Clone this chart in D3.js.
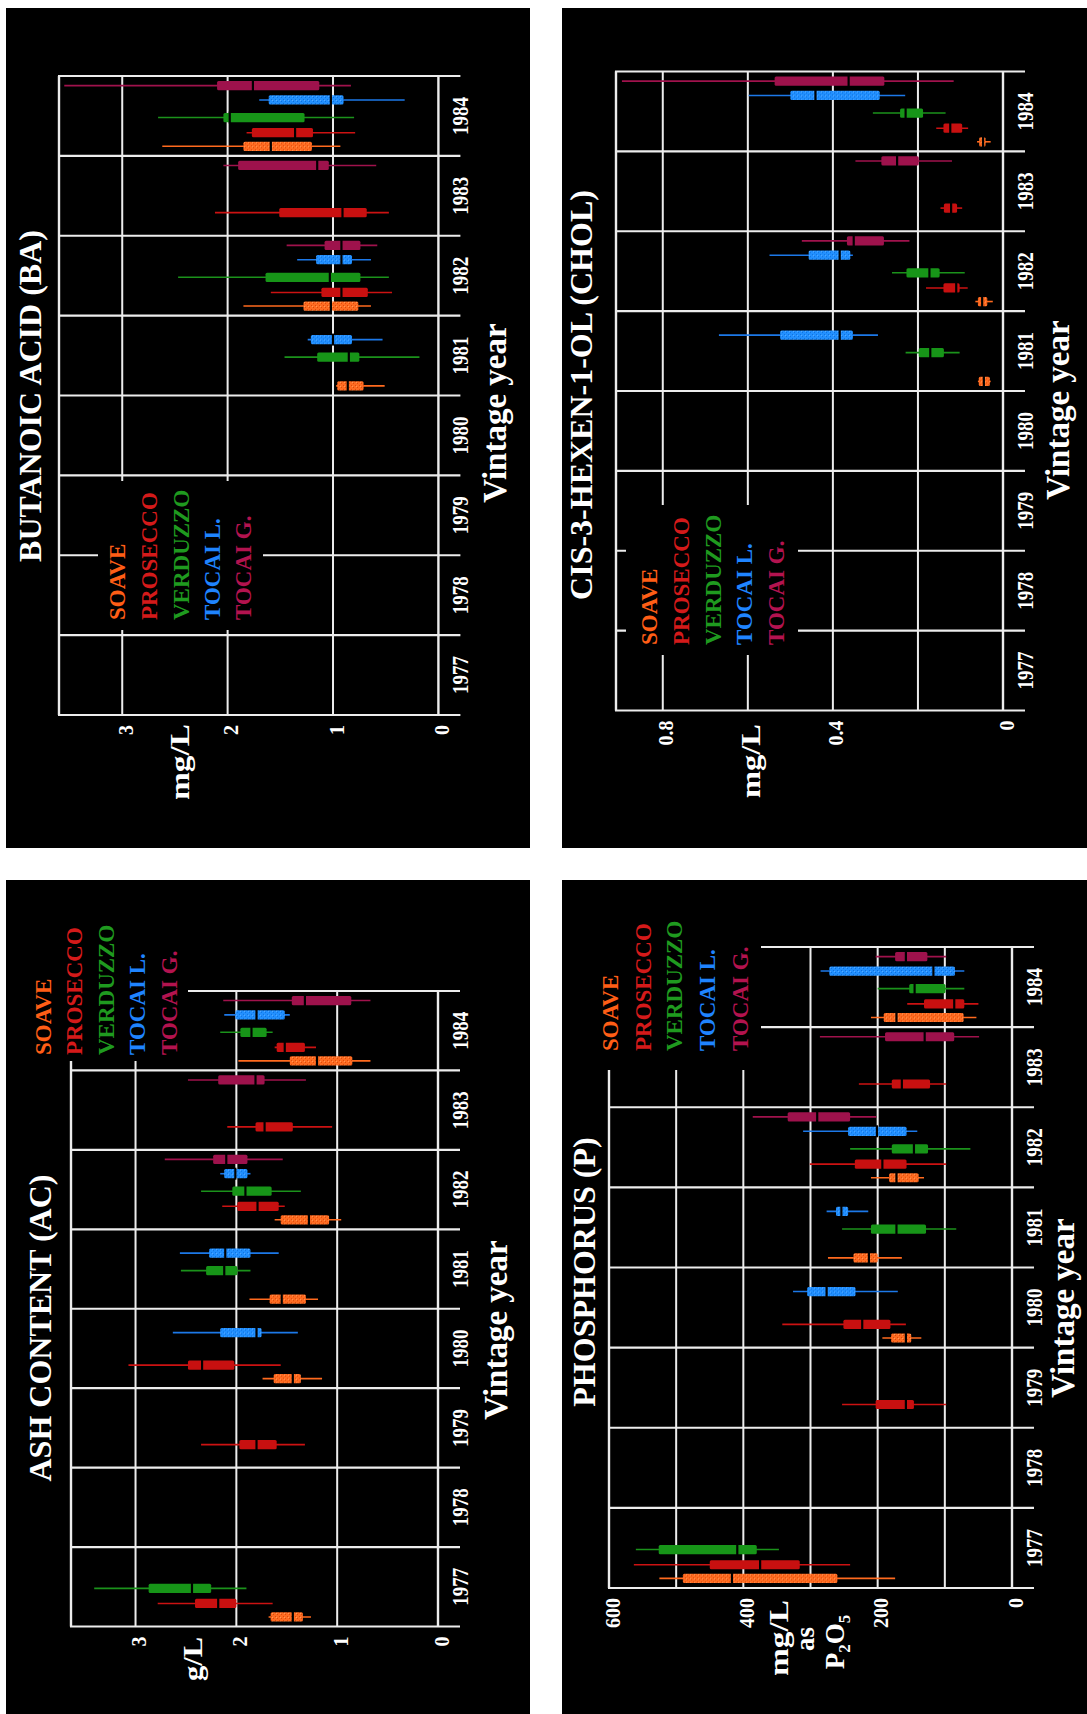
<!DOCTYPE html>
<html><head><meta charset="utf-8">
<script src="https://cdn.jsdelivr.net/npm/d3@7"></script>
<style>body{margin:0;background:#fff} svg{display:block}</style>
</head><body>
<svg id="chart" width="1087" height="1714"></svg>
<script>
// ---------------- DATA ----------------
const years = [1977, 1978, 1979, 1980, 1981, 1982, 1983, 1984];
const wines = ["SOAVE", "PROSECCO", "VERDUZZO", "TOCAI L.", "TOCAI G."];

// rows: [year, wine, min, q1, median, q3, max]
const butanoicBoxes = [
  [1981, "SOAVE", 0.51, 0.71, 0.86, 0.96, 0.97],
  [1981, "VERDUZZO", 0.18, 0.75, 0.85, 1.15, 1.46],
  [1981, "TOCAI L.", 0.53, 0.82, 1.00, 1.21, 1.24],
  [1982, "SOAVE", 0.64, 0.76, 1.02, 1.28, 1.85],
  [1982, "PROSECCO", 0.44, 0.67, 0.92, 1.11, 1.59],
  [1982, "VERDUZZO", 0.47, 0.74, 1.03, 1.64, 2.47],
  [1982, "TOCAI L.", 0.64, 0.82, 0.92, 1.16, 1.34],
  [1982, "TOCAI G.", 0.58, 0.74, 0.92, 1.08, 1.44],
  [1983, "PROSECCO", 0.47, 0.68, 0.91, 1.51, 2.12],
  [1983, "TOCAI G.", 0.59, 1.04, 1.15, 1.90, 2.04],
  [1984, "SOAVE", 0.93, 1.20, 1.59, 1.85, 2.62],
  [1984, "PROSECCO", 0.79, 1.19, 1.36, 1.77, 1.82],
  [1984, "VERDUZZO", 0.80, 1.27, 1.98, 2.04, 2.66],
  [1984, "TOCAI L.", 0.32, 0.90, 1.02, 1.61, 1.70],
  [1984, "TOCAI G.", 0.83, 1.13, 1.76, 2.10, 3.55]
];

const hexenolBoxes = [
  [1981, "SOAVE", 0.029, 0.031, 0.045, 0.057, 0.059],
  [1981, "VERDUZZO", 0.102, 0.139, 0.171, 0.198, 0.229],
  [1981, "TOCAI L.", 0.294, 0.353, 0.384, 0.524, 0.668],
  [1982, "SOAVE", 0.024, 0.037, 0.049, 0.059, 0.065],
  [1982, "PROSECCO", 0.083, 0.102, 0.110, 0.140, 0.181],
  [1982, "VERDUZZO", 0.090, 0.149, 0.173, 0.227, 0.261],
  [1982, "TOCAI L.", 0.353, 0.359, 0.384, 0.457, 0.549],
  [1982, "TOCAI G.", 0.220, 0.280, 0.351, 0.367, 0.473],
  [1983, "PROSECCO", 0.096, 0.108, 0.122, 0.139, 0.147],
  [1983, "TOCAI G.", 0.120, 0.198, 0.249, 0.286, 0.347],
  [1984, "SOAVE", 0.029, 0.041, 0.047, 0.056, 0.061],
  [1984, "PROSECCO", 0.082, 0.096, 0.124, 0.140, 0.157],
  [1984, "VERDUZZO", 0.135, 0.188, 0.229, 0.242, 0.306],
  [1984, "TOCAI L.", 0.230, 0.290, 0.441, 0.500, 0.598],
  [1984, "TOCAI G.", 0.116, 0.279, 0.363, 0.537, 0.896]
];

const ashBoxes = [
  [1977, "SOAVE", 1.26, 1.34, 1.44, 1.66, 1.68],
  [1977, "PROSECCO", 1.64, 2.00, 2.18, 2.41, 2.78],
  [1977, "VERDUZZO", 1.90, 2.25, 2.44, 2.87, 3.41],
  [1979, "PROSECCO", 1.32, 1.60, 1.80, 1.97, 2.35],
  [1980, "SOAVE", 1.15, 1.36, 1.44, 1.63, 1.74],
  [1980, "PROSECCO", 1.56, 2.02, 2.34, 2.48, 3.07],
  [1980, "TOCAI L.", 1.39, 1.75, 1.80, 2.16, 2.63],
  [1981, "SOAVE", 1.19, 1.31, 1.55, 1.67, 1.87],
  [1981, "VERDUZZO", 1.86, 1.99, 2.12, 2.30, 2.55],
  [1981, "TOCAI L.", 1.58, 1.86, 2.11, 2.27, 2.56],
  [1982, "SOAVE", 0.96, 1.08, 1.28, 1.56, 1.62],
  [1982, "PROSECCO", 1.52, 1.58, 1.79, 1.99, 2.14],
  [1982, "VERDUZZO", 1.36, 1.65, 1.91, 2.04, 2.35],
  [1982, "TOCAI L.", 1.86, 1.89, 2.01, 2.12, 2.16],
  [1982, "TOCAI G.", 1.54, 1.89, 2.10, 2.23, 2.71],
  [1983, "PROSECCO", 1.05, 1.44, 1.72, 1.81, 2.09],
  [1983, "TOCAI G.", 1.31, 1.72, 1.81, 2.18, 2.48],
  [1984, "SOAVE", 0.67, 0.85, 1.20, 1.47, 1.98],
  [1984, "PROSECCO", 1.21, 1.32, 1.52, 1.60, 1.62],
  [1984, "VERDUZZO", 1.64, 1.70, 1.85, 1.96, 2.16],
  [1984, "TOCAI L.", 1.47, 1.52, 1.80, 2.01, 2.12],
  [1984, "TOCAI G.", 0.67, 0.86, 1.32, 1.45, 2.13]
];

const phosphorusBoxes = [
  [1977, "SOAVE", 174, 260, 417, 490, 525],
  [1977, "PROSECCO", 241, 316, 375, 450, 563],
  [1977, "VERDUZZO", 347, 380, 409, 526, 560],
  [1979, "PROSECCO", 98, 146, 158, 203, 253],
  [1980, "SOAVE", 135, 150, 158, 180, 193],
  [1980, "PROSECCO", 158, 181, 223, 251, 342],
  [1980, "TOCAI L.", 170, 233, 276, 305, 326],
  [1981, "SOAVE", 164, 200, 213, 236, 274],
  [1981, "VERDUZZO", 83, 128, 172, 210, 253],
  [1981, "TOCAI L.", 214, 244, 254, 262, 276],
  [1982, "SOAVE", 131, 139, 172, 183, 210],
  [1982, "PROSECCO", 98, 157, 193, 234, 301],
  [1982, "VERDUZZO", 62, 125, 146, 179, 241],
  [1982, "TOCAI L.", 141, 157, 201, 244, 311],
  [1982, "TOCAI G.", 202, 241, 290, 334, 386],
  [1983, "PROSECCO", 98, 122, 164, 179, 228],
  [1983, "TOCAI G.", 49, 86, 130, 189, 286],
  [1984, "SOAVE", 53, 72, 172, 191, 210],
  [1984, "PROSECCO", 50, 71, 86, 131, 156],
  [1984, "VERDUZZO", 71, 99, 145, 153, 200],
  [1984, "TOCAI L.", 71, 85, 117, 272, 285],
  [1984, "TOCAI G.", 98, 126, 158, 174, 203]
];

const butanoicTicks = [0, 1, 2, 3];
const hexenolTicks = [0, 0.4, 0.8];
const hexenolGrid = [0.2, 0.4, 0.6, 0.8];
const ashTicks = [0, 1, 2, 3];
const phosphorusTicks = [0, 200, 400, 600];
const phosphorusGrid = [100, 200, 300, 400, 500];

// ---------------- STYLE ----------------
const SERIF = "'Liberation Serif','Times New Roman',Times,serif";
const GRID = "#ececec";
const textColors = {"SOAVE": "#ff5e16", "PROSECCO": "#d41a1a", "VERDUZZO": "#1f9a1f", "TOCAI L.": "#1f84ff", "TOCAI G.": "#b3134f"};
const lineColors = {"SOAVE": "#ff6a1e", "PROSECCO": "#cc1212", "VERDUZZO": "#1b921b", "TOCAI L.": "#1c78e8", "TOCAI G.": "#a0124c"};
const boxFills = {"SOAVE": "url(#patSoave)", "PROSECCO": "#c81010", "VERDUZZO": "#179518", "TOCAI L.": "url(#patTocaiL)", "TOCAI G.": "#9e124c"};
const slotFrac = {"SOAVE": 0.12, "PROSECCO": 0.29, "VERDUZZO": 0.48, "TOCAI L.": 0.70, "TOCAI G.": 0.88};

const svg = d3.select("#chart");
const defs = svg.append("defs");
function makePattern(id, base, dark, light) {
  const p = defs.append("pattern").attr("id", id).attr("width", 4).attr("height", 4).attr("patternUnits", "userSpaceOnUse");
  p.append("rect").attr("width", 4).attr("height", 4).attr("fill", base);
  p.append("rect").attr("x", 0).attr("y", 0).attr("width", 1).attr("height", 1).attr("fill", dark);
  p.append("rect").attr("x", 2).attr("y", 2).attr("width", 1).attr("height", 1).attr("fill", dark);
  p.append("rect").attr("x", 3).attr("y", 1).attr("width", 1).attr("height", 1).attr("fill", light);
}
makePattern("patSoave", "#ff6c22", "#d94a0a", "#ff9c5a");
makePattern("patTocaiL", "#2290ff", "#0e6fdc", "#5aacff");

// ---------------- LAYOUT ----------------
// unit lines: [text parts, baseline x, center y, textLength]
const panels = [
  {title: "BUTANOIC ACID (BA)", data: butanoicBoxes, vmax: 3.6,
   grid: [1, 2, 3], ticks: butanoicTicks,
   px: 6, py: 8, pw: 524, ph: 840, fx0: 59, zero: 438.4, fyTop: 76, fyBot: 715,
   titlePos: [41, 396], vyPos: [506, 413], units: [[["mg/L"], 189, 762, 76]],
   legBase: [125, 156.5, 188.5, 219.5, 251], legBottom: 620, legBox: [98, 481, 263, 630]},
  {title: "CIS-3-HEXEN-1-OL (CHOL)", data: hexenolBoxes, vmax: 0.91,
   grid: hexenolGrid, ticks: hexenolTicks,
   px: 562, py: 8, pw: 525, ph: 840, fx0: 616, zero: 1003, fyTop: 71.5, fyBot: 710.5,
   titlePos: [592, 395], vyPos: [1069, 410], units: [[["mg/L"], 760, 761, 74]],
   legBase: [657, 689, 721, 752, 784], legBottom: 645, legBox: [626, 505, 798, 655]},
  {title: "ASH CONTENT (AC)", data: ashBoxes, vmax: 3.64,
   grid: [1, 2, 3], ticks: ashTicks,
   px: 6, py: 880, pw: 524, ph: 834, fx0: 71, zero: 438, fyTop: 991, fyBot: 1626.5,
   titlePos: [51, 1328], vyPos: [507, 1330], units: [[["g/L"], 202, 1659, 44]],
   legBase: [51, 82, 113.5, 145, 177], legBottom: 1055, legBox: [6, 880, 188, 1061]},
  {title: "PHOSPHORUS (P)", data: phosphorusBoxes, vmax: 600,
   grid: phosphorusGrid, ticks: phosphorusTicks,
   px: 562, py: 880, pw: 525, ph: 834, fx0: 609, zero: 1012, fyTop: 947, fyBot: 1588,
   titlePos: [595, 1272], vyPos: [1074, 1308],
   units: [[["mg/L"], 788, 1638, 76], [["as"], 814, 1639, 0], [["P", "2", "O", "5"], 844, 1642, 0]],
   legBase: [618, 651, 682, 715, 748], legBottom: 1051, legBox: [562, 880, 761, 1070]}
];

function drawPanel(p) {
  svg.append("rect").attr("x", p.px).attr("y", p.py).attr("width", p.pw).attr("height", p.ph).attr("fill", "#000");
  const W = p.fyBot - p.fyTop, H = p.zero - p.fx0;
  const g = svg.append("g").attr("transform", `translate(${p.fx0},${p.fyBot}) rotate(-90)`);
  const L = (sx, sy) => [p.fyBot - sy, sx - p.fx0];
  const x = d3.scaleBand().domain(years).range([0, W]);
  const y = d3.scaleLinear().domain([0, p.vmax]).range([H, 0]);
  const bw = x.bandwidth();

  // value grid lines
  g.append("g").selectAll("line").data(p.grid).join("line")
    .attr("x1", 0).attr("x2", W).attr("y1", d => y(d)).attr("y2", d => y(d))
    .attr("stroke", GRID).attr("stroke-width", 2);
  // year boundaries
  const edges = years.map(d => x(d)).concat([W]);
  g.append("g").selectAll("line").data(edges).join("line")
    .attr("x1", d => d).attr("x2", d => d).attr("y1", -1).attr("y2", H + 22)
    .attr("stroke", GRID).attr("stroke-width", 2.2);
  // frame sides (value max and zero)
  g.append("g").selectAll("line").data([p.vmax, 0]).join("line")
    .attr("x1", 0).attr("x2", W).attr("y1", d => y(d)).attr("y2", d => y(d))
    .attr("stroke", GRID).attr("stroke-width", 2.4);

  // legend box (covers grid) and legend text
  const [lx0, ly0, lx1, ly1] = p.legBox;
  const a = L(lx0, ly1), b = L(lx1, ly0);
  g.append("rect").attr("x", a[0]).attr("y", a[1]).attr("width", b[0] - a[0]).attr("height", b[1] - a[1]).attr("fill", "#000");
  g.append("g").selectAll("text").data(wines).join("text")
    .attr("x", p.fyBot - p.legBottom)
    .attr("y", (d, i) => p.legBase[i] - p.fx0)
    .attr("fill", d => textColors[d])
    .attr("font-family", SERIF).attr("font-weight", "bold").attr("font-size", 23)
    .text(d => d);

  // boxes
  const rows = p.data.map(r => ({year: r[0], wine: r[1], min: r[2], q1: r[3], med: r[4], q3: r[5], max: r[6]}));
  const bg = g.append("g").selectAll("g").data(rows).join("g")
    .attr("transform", d => `translate(${x(d.year) + bw * slotFrac[d.wine]},0)`);
  bg.append("line").attr("x1", 0).attr("x2", 0).attr("y1", d => y(d.max)).attr("y2", d => y(d.min))
    .attr("stroke", d => lineColors[d.wine]).attr("stroke-width", 1.6);
  bg.append("rect").attr("x", -4.6).attr("width", 9.2)
    .attr("y", d => y(d.q3)).attr("height", d => Math.max(1, y(d.q1) - y(d.q3)))
    .attr("rx", 1.5).attr("fill", d => boxFills[d.wine]);
  bg.append("line").attr("x1", -6).attr("x2", 6).attr("y1", d => y(d.med)).attr("y2", d => y(d.med))
    .attr("stroke", "#000").attr("stroke-width", 2.2);

  // value axis labels
  const ya = g.append("g").call(d3.axisLeft(y).tickValues(p.ticks).tickSize(0).tickPadding(10).tickFormat(d => String(d)));
  ya.select(".domain").remove();
  ya.selectAll("text").attr("fill", "#fff").attr("font-family", SERIF).attr("font-weight", "bold")
    .attr("font-size", 20).attr("dy", "0.5em");

  // year axis labels
  const xa = g.append("g").attr("transform", `translate(0,${H})`).call(d3.axisBottom(x).tickSize(0).tickPadding(13));
  xa.select(".domain").remove();
  xa.selectAll("text").attr("fill", "#fff").attr("font-family", SERIF).attr("font-weight", "bold").attr("font-size", 24)
    .attr("textLength", 38).attr("lengthAdjust", "spacingAndGlyphs");

  // title
  const t = L(p.titlePos[0], p.titlePos[1]);
  g.append("text").attr("x", t[0]).attr("y", t[1]).attr("text-anchor", "middle")
    .attr("fill", "#fff").attr("font-family", SERIF).attr("font-weight", "bold").attr("font-size", 32)
    .text(p.title);
  // Vintage year
  const v = L(p.vyPos[0], p.vyPos[1]);
  g.append("text").attr("x", v[0]).attr("y", v[1]).attr("text-anchor", "middle")
    .attr("fill", "#fff").attr("font-family", SERIF).attr("font-weight", "bold").attr("font-size", 33)
    .text("Vintage year");
  // unit label(s)
  p.units.forEach(([parts, bx, cy, tl]) => {
    const u = L(bx, cy);
    const tx = g.append("text").attr("x", u[0]).attr("y", u[1]).attr("text-anchor", "middle")
      .attr("fill", "#fff").attr("font-family", SERIF).attr("font-weight", "bold").attr("font-size", 27);
    if (parts.length === 1) {
      tx.text(parts[0]);
      if (tl) tx.attr("textLength", tl).attr("lengthAdjust", "spacingAndGlyphs");
    } else parts.forEach((s, k) => {
      const sp = tx.append("tspan").text(s);
      if (k % 2 === 1) sp.attr("font-size", 17).attr("dy", 6);
      else if (k > 0) sp.attr("dy", -6);
    });
  });
}

panels.forEach(drawPanel);
</script>
</body></html>
